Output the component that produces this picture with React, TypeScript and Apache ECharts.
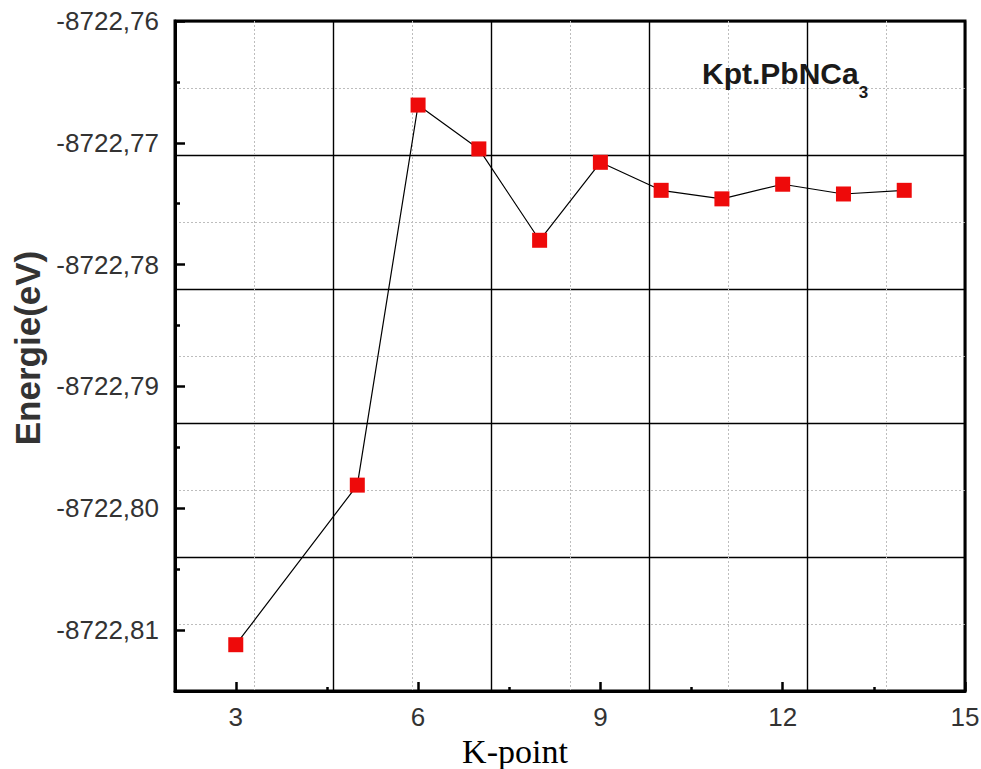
import React, { useEffect, useRef } from 'react';
import * as echarts from 'echarts';

const kPoints = [3, 5, 6, 7, 8, 9, 10, 11, 12, 13, 14];
const energies = [
  -8722.8112, -8722.7981, -8722.7669, -8722.7705, -8722.778, -8722.7716,
  -8722.7739, -8722.7746, -8722.7734, -8722.7742, -8722.7739,
];
const xTicks = [3, 6, 9, 12, 15];
const xMinorTicks = [4.5, 7.5, 10.5, 13.5];
const yTicks = [-8722.81, -8722.8, -8722.79, -8722.78, -8722.77, -8722.76];
const yMinorTicks = [-8722.805, -8722.795, -8722.785, -8722.775, -8722.765];
const oddGrid = [1, 3, 5, 7, 9];

const X_MIN = 2;
const X_MAX = 15;
const Y_MIN = -8722.815;
const Y_MAX = -8722.76;

const labelFont = {
  fontFamily: '"Liberation Sans", Arial, sans-serif',
  fontSize: 26,
  color: '#333',
};

export default function App() {
  const ref = useRef<HTMLDivElement>(null);

  useEffect(() => {
    if (!ref.current) return;
    const chart = echarts.init(ref.current, null, { renderer: 'svg' });
    const data = kPoints.map((k, i) => [k, energies[i]]);

    const hiddenBase = {
      type: 'value',
      min: 0,
      max: 10,
      axisLine: { show: false },
      axisLabel: { show: false },
    };

    chart.setOption({
      animation: false,
      backgroundColor: '#fff',
      title: {
        text: '{a|Kpt.PbNCa}{b|3}',
        left: 702,
        top: 58,
        padding: 0,
        textStyle: {
          rich: {
            a: {
              fontFamily: '"Liberation Sans", Arial, sans-serif',
              fontWeight: 'bold',
              fontSize: 30,
              lineHeight: 30,
              color: '#1a1a1a',
            },
            b: {
              fontFamily: '"Liberation Sans", Arial, sans-serif',
              fontWeight: 'bold',
              fontSize: 17,
              lineHeight: 17,
              padding: [38, 0, 0, 0],
              color: '#1a1a1a',
            },
          },
        },
      },
      grid: {
        left: 175,
        right: 16,
        top: 21,
        bottom: 78,
        show: true,
        borderColor: '#000',
        borderWidth: 3,
        backgroundColor: 'transparent',
        outerBoundsMode: 'none',
      },
      xAxis: [
        {
          type: 'value',
          min: X_MIN,
          max: X_MAX,
          position: 'bottom',
          name: 'K-point',
          nameLocation: 'middle',
          nameGap: 36,
          nameTextStyle: {
            fontFamily: '"Liberation Serif", "Times New Roman", serif',
            fontSize: 34,
            color: '#000',
            padding: [0, 110, 0, 0],
          },
          axisLine: { show: true, lineStyle: { color: '#000', width: 3 } },
          axisTick: {
            show: true,
            inside: true,
            length: 9,
            customValues: xTicks,
            lineStyle: { color: '#000', width: 2.5 },
          },
          axisLabel: {
            ...labelFont,
            margin: 13,
            customValues: xTicks,
          },
          splitLine: { show: false },
        },
        {
          type: 'value',
          min: X_MIN,
          max: X_MAX,
          position: 'bottom',
          axisLine: { show: false },
          axisLabel: { show: false },
          axisTick: {
            show: true,
            inside: true,
            length: 4,
            customValues: xMinorTicks,
            lineStyle: { color: '#000', width: 2.5 },
          },
          splitLine: { show: false },
        },
        {
          ...hiddenBase,
          position: 'top',
          interval: 2,
          axisTick: { show: false },
          splitLine: { show: true, lineStyle: { color: '#000', width: 1.4, type: 'solid' } },
        },
        {
          ...hiddenBase,
          position: 'top',
          axisTick: { show: false, customValues: oddGrid },
          splitLine: { show: true, lineStyle: { color: '#bdbdbd', width: 1, type: [2, 2] } },
        },
      ],
      yAxis: [
        {
          type: 'value',
          min: Y_MIN,
          max: Y_MAX,
          position: 'left',
          name: 'Energie(eV)',
          nameLocation: 'middle',
          nameGap: 126,
          nameRotate: 90,
          nameTextStyle: {
            fontFamily: '"Liberation Sans", Arial, sans-serif',
            fontWeight: 'bold',
            fontSize: 35,
            color: '#333',
            padding: [0, 0, 0, 16],
          },
          axisLine: { show: true, lineStyle: { color: '#000', width: 3 } },
          axisTick: {
            show: true,
            inside: true,
            length: 10,
            customValues: yTicks,
            lineStyle: { color: '#000', width: 2.5 },
          },
          axisLabel: {
            ...labelFont,
            margin: 16,
            customValues: yTicks,
            formatter: (v: number) => v.toFixed(2).replace('.', ','),
          },
          splitLine: { show: false },
        },
        {
          type: 'value',
          min: Y_MIN,
          max: Y_MAX,
          position: 'left',
          axisLine: { show: false },
          axisLabel: { show: false },
          axisTick: {
            show: true,
            inside: true,
            length: 5,
            customValues: yMinorTicks,
            lineStyle: { color: '#000', width: 2.5 },
          },
          splitLine: { show: false },
        },
        {
          ...hiddenBase,
          position: 'right',
          interval: 2,
          axisTick: { show: false },
          splitLine: { show: true, lineStyle: { color: '#000', width: 1.4, type: 'solid' } },
        },
        {
          ...hiddenBase,
          position: 'right',
          axisTick: { show: false, customValues: oddGrid },
          splitLine: { show: true, lineStyle: { color: '#bdbdbd', width: 1, type: [2, 2] } },
        },
      ],
      series: [
        {
          type: 'line',
          xAxisIndex: 0,
          yAxisIndex: 0,
          data,
          symbol: 'rect',
          symbolSize: 15,
          showAllSymbol: true,
          lineStyle: { color: '#000', width: 1.2 },
          itemStyle: { color: '#ee0a0a', borderWidth: 0 },
          z: 5,
        },
      ],
    });

    return () => chart.dispose();
  }, []);

  return (
    <div
      ref={ref}
      style={{ position: 'fixed', left: 0, top: 0, width: 981, height: 769, background: '#fff' }}
    />
  );
}
